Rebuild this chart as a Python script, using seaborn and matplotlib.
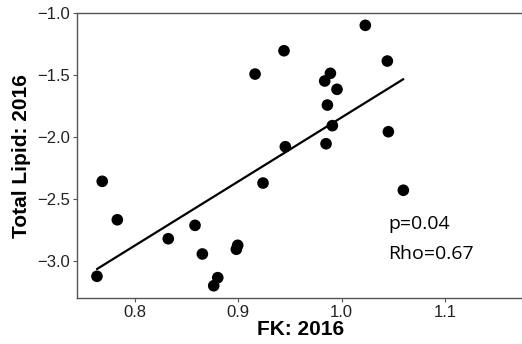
import matplotlib
matplotlib.use("Agg")
import matplotlib.pyplot as plt
import seaborn as sns
import pandas as pd

# FK and total lipid values for 2016
fk_2016 = [0.7683, 0.7829, 0.7632, 0.8322, 0.8581, 0.8652, 0.8801, 0.8762,
           0.8994, 0.8981, 0.9239, 0.9162, 0.9442, 1.0229, 1.0442, 0.9891,
           0.9836, 0.9955, 0.9862, 0.9910, 0.9455, 0.9849, 1.0452, 1.0597]
lipid_2016 = [-2.355, -2.665, -3.121, -2.818, -2.710, -2.941, -3.132, -3.197,
              -2.871, -2.903, -2.369, -1.490, -1.302, -1.097, -1.385, -1.484,
              -1.546, -1.613, -1.740, -1.906, -2.076, -2.052, -1.955, -2.427]
stats_text = ["p=0.04", "Rho=0.67"]
x_ticks = [0.8, 0.9, 1.0, 1.1]
y_ticks = [-3.0, -2.5, -2.0, -1.5, -1.0]

df = pd.DataFrame({"FK": fk_2016, "Lipid": lipid_2016})

sns.set_theme(style="white")
plt.rcParams["font.family"] = ["Liberation Sans", "DejaVu Sans"]

fig = plt.figure(figsize=(5.22, 3.44), dpi=100)
ax = fig.add_axes([76.7 / 522, 1 - 298 / 344, (538 - 76.7) / 522, (298 - 13.3) / 344])

sns.regplot(data=df, x="FK", y="Lipid", ax=ax, ci=None,
            scatter_kws=dict(s=70, color="black", edgecolor="none", alpha=1),
            line_kws=dict(color="black", lw=1.6))

ax.set_xlim(0.7436, 1.19)
ax.set_ylim(-3.296, -1.0)
ax.set_xticks(x_ticks)
ax.set_yticks(y_ticks)
ax.set_xticklabels([f"{v:.1f}" for v in x_ticks])
ax.set_yticklabels([f"\u2212{abs(v):.1f}" for v in y_ticks])

for side in ["top", "bottom", "left"]:
    ax.spines[side].set_color("#555555")
    ax.spines[side].set_linewidth(1.0)
ax.spines["right"].set_visible(False)

ax.tick_params(axis="both", which="major", length=3, width=0.8, color="#555555",
               labelsize=12, labelcolor="#222222", pad=2,
               bottom=True, left=True)

ax.set_xlabel("FK: 2016", fontsize=15, fontweight="bold", color="black")
ax.set_ylabel("Total Lipid: 2016", fontsize=15, fontweight="bold", color="black")
ax.xaxis.set_label_coords(0.486, -0.077)
ax.yaxis.set_label_coords(-0.099, 0.5)

ax.text(1.045, -2.74, stats_text[0], fontsize=14, family=["Open Sans", "DejaVu Sans"],
        color="black", va="baseline", ha="left")
ax.text(1.045, -2.98, stats_text[1], fontsize=14, family=["Open Sans", "DejaVu Sans"],
        color="black", va="baseline", ha="left")

fig.savefig("out.png", dpi=100)
